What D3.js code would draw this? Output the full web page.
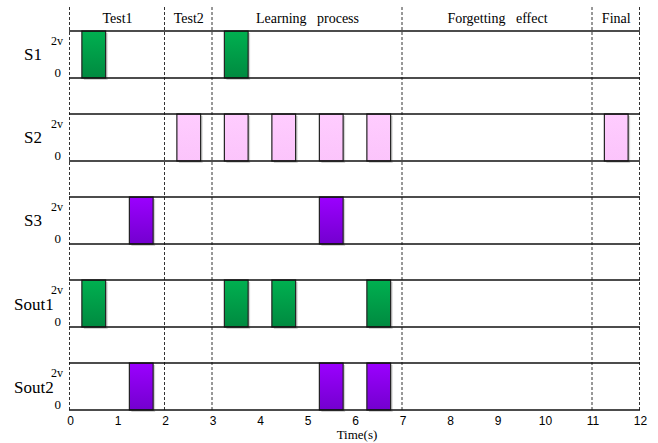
<html><head>
<script src="https://cdnjs.cloudflare.com/ajax/libs/d3/7.8.5/d3.min.js"></script>
<style>
body { margin: 0; background: #fff; }
svg { display: block; }
.serif { font-family: "Liberation Serif", "Times New Roman", serif; fill: #000; }
.tick text { font-family: "Liberation Sans", Arial, sans-serif; font-size: 12px; }
</style>
</head>
<body>
<div id="chart"></div>
<script>
// signals and their pulses (start times, s); each pulse lasts pulseWidth
const signals = ["S1", "S2", "S3", "Sout1", "Sout2"];
const s1Pulses = [0.25, 3.25];
const s2Pulses = [2.25, 3.25, 4.25, 5.25, 6.25, 11.25];
const s3Pulses = [1.25, 5.25];
const sout1Pulses = [0.25, 3.25, 4.25, 6.25];
const sout2Pulses = [1.25, 5.25, 6.25];
const pulseWidth = 0.5;
const pulseColors = ["green", "pink", "purple", "green", "purple"];

// phases
const phaseBounds = [0, 2, 3, 7, 11, 12];
const phaseLabels = ["Test1", "Test2", "Learning   process", "Forgetting   effect", "Final"];
const xTicks = d3.range(0, 13);

const width = 658, height = 443;
const svg = d3.select("#chart").append("svg")
    .attr("width", width).attr("height", height);

const defs = svg.append("defs");
const grad = (id, c1, c2) => {
    const lg = defs.append("linearGradient").attr("id", id)
        .attr("x1", 0).attr("y1", 0).attr("x2", 0).attr("y2", 1);
    lg.append("stop").attr("offset", "0%").attr("stop-color", c1);
    lg.append("stop").attr("offset", "100%").attr("stop-color", c2);
};
grad("green", "#00b050", "#008a40");
grad("purple", "#9b00ff", "#7300cf");
grad("pink", "#ffccff", "#fbc4fb");

const x = d3.scaleLinear().domain([0, 12]).range([70, 640]);
const rowTop = d3.scalePoint().domain(signals).range([31, 363]);
const rowH = 47;

// dashed phase separators
svg.append("g").selectAll("line")
    .data(phaseBounds)
    .join("line")
    .attr("x1", d => x(d) - 0.5).attr("x2", d => x(d) - 0.5)
    .attr("y1", 7).attr("y2", 410)
    .attr("stroke", "#333").attr("stroke-width", 1)
    .attr("stroke-dasharray", "3,2");

// phase headers
svg.append("g").selectAll("text")
    .data(phaseLabels)
    .join("text")
    .attr("class", "serif")
    .attr("x", (d, i) => x((phaseBounds[i] + phaseBounds[i + 1]) / 2))
    .attr("y", 23)
    .attr("text-anchor", "middle")
    .style("font-size", "14px")
    .style("white-space", "pre")
    .text(d => d);

const allPulses = [s1Pulses, s2Pulses, s3Pulses, sout1Pulses, sout2Pulses];

signals.forEach((name, i) => {
    const top = rowTop(name);
    const g = svg.append("g");
    const isOut = name.startsWith("Sout");

    // pulses: shadow, then bar
    g.selectAll("rect.shadow")
        .data(allPulses[i])
        .join("rect")
        .attr("class", "shadow")
        .attr("x", d => x(d) + 2)
        .attr("y", top + 2)
        .attr("width", x(pulseWidth) - x(0))
        .attr("height", rowH)
        .attr("fill", "#d4d4d4");

    g.selectAll("rect.bar")
        .data(allPulses[i])
        .join("rect")
        .attr("class", "bar")
        .attr("x", d => x(d))
        .attr("y", top)
        .attr("width", x(pulseWidth) - x(0))
        .attr("height", rowH)
        .attr("fill", `url(#${pulseColors[i]})`)
        .attr("stroke", "#222").attr("stroke-width", 1.2);

    // 2v and 0 rails
    [top, top + rowH].forEach(yy => {
        g.append("line")
            .attr("x1", x(0) - 1).attr("x2", x(12))
            .attr("y1", yy).attr("y2", yy)
            .attr("stroke", "#111").attr("stroke-width", 1.5);
    });

    g.append("text").attr("class", "serif")
        .attr("x", isOut ? 14 : 24).attr("y", top + (isOut ? 30 : 29))
        .style("font-size", "17px")
        .text(name);
    g.append("text").attr("class", "serif")
        .attr("x", 63).attr("y", top + 14)
        .attr("text-anchor", "end")
        .style("font-size", "12px")
        .text("2v");
    g.append("text").attr("class", "serif")
        .attr("x", 61).attr("y", top + 46)
        .attr("text-anchor", "end")
        .style("font-size", "13px")
        .text("0");
});

// time axis
const axis = svg.append("g")
    .attr("transform", `translate(0,${rowTop("Sout2") + rowH})`)
    .call(d3.axisBottom(x).tickValues(xTicks).tickSize(0).tickPadding(6).tickFormat(d3.format("d")));
axis.select(".domain").remove();

svg.append("text").attr("class", "serif")
    .attr("x", 357).attr("y", 439)
    .attr("text-anchor", "middle")
    .style("font-size", "13px")
    .text("Time(s)");
</script>
</body></html>
